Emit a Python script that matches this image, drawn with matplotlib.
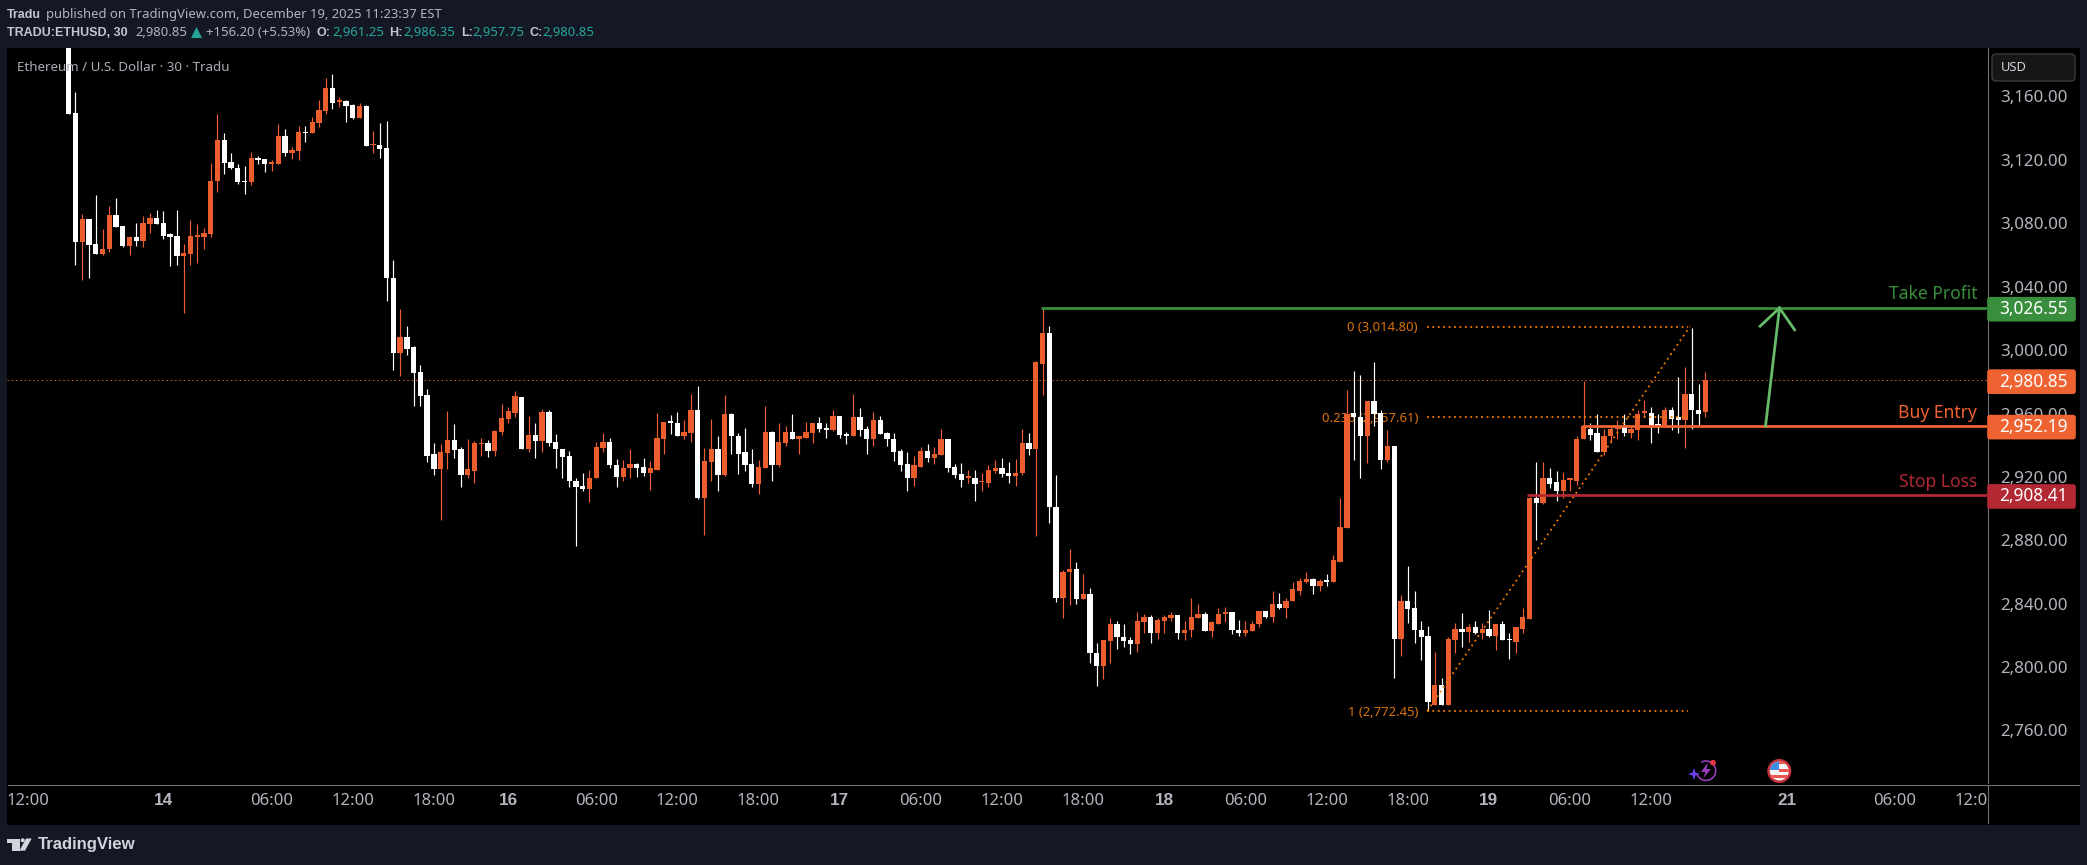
import numpy as np
import matplotlib
matplotlib.use("Agg")
import matplotlib.pyplot as plt
from matplotlib.patches import Rectangle, FancyBboxPatch, Circle, Polygon, Wedge
from matplotlib.transforms import Bbox

# ohlc of each 30 min candle
opens = [3195,3149.3,3067.9,3082.4,3066.7,3060.4,3063.5,3085.0,3078,3065.4,3071.1,3068.6,3079.3,3083.1,3079.9,3073,3071.7,3059.1,3060.4,3071.3,
 3071.1,3073,3106.4,3132.3,3118.4,3115.2,3106.4,3105.8,3120.9,3120.3,3117.3,3117.1,3134.8,3124.1,3125.3,3137.3,3136.7,3143,3150.6,3165.1,
 3156.5,3156.9,3154.4,3146.2,3153.7,3129.1,3129.7,3127.2,3045.8,2998.1,3008,3001.7,2985.9,2971.4,2934.2,2924.7,2934.8,2943,2937.3,2920.9,
 2924,2940.5,2941.7,2936.1,2948.1,2956.3,2960.6,2970.7,2937.9,2946.7,2942.9,2961.2,2942.3,2937.9,2933.5,2917.7,2914.5,2912.6,2919,2938.5,
 2942.3,2927.8,2920.2,2925.3,2928.4,2926.5,2922.7,2924.6,2944.2,2954.9,2954.3,2946.1,2948,2961.9,2907,2929.7,2937.9,2921.5,2960,2946.1,
 2935.4,2928.4,2915.8,2925.9,2948.6,2927.2,2941.7,2948.6,2944.2,2944.8,2948,2953.7,2951.1,2949.9,2958.7,2947.3,2945.5,2958.1,2950.5,2944.2,
 2956.2,2948,2944.2,2936.6,2928.4,2919.6,2926.5,2936.6,2932.2,2934.1,2944.2,2926.5,2922.1,2919.2,2919.6,2916.6,2916.4,2924,2925.3,2922.7,
 2920.8,2922.2,2941.1,2937.9,2991.5,3010.5,2901.3,2843.9,2859.7,2862.2,2842.7,2846.4,2809.2,2800.4,2816.2,2826.9,2819.3,2816.8,2814.3,2828.2,
 2831.3,2821.2,2829.4,2830.7,2832.6,2821.8,2823.1,2830.7,2833.2,2822.5,2827.5,2833.2,2834.5,2823.7,2821.2,2822.5,2826.9,2835.1,2831.9,2840.1,
 2837,2841.4,2848.3,2854,2855.3,2850.9,2854.6,2854,2866.6,2887.5,2960,2958.1,2945.5,2968.2,2960.6,2930.4,2939.2,2818,2841.4,2837,
 2823.7,2819.9,2776.4,2788.4,2776.4,2817.4,2824.3,2822.4,2825,2821.8,2824.3,2819.9,2826.9,2817.4,2816.1,2824.3,2830.6,2906.4,2903.8,2919.6,
 2916.5,2911.4,2918.2,2917.7,2943.6,2950.5,2947.4,2935.4,2945.5,2950.5,2951.2,2948,2949.9,2960.6,2960.6,2953,2951.8,2962.5,2957.5,2955.6,
 2972,2962.5,2961.25]
closes = [3148.9,3067.9,3082.4,3066.0,3060.4,3064.1,3085.0,3077.4,3065.4,3071.1,3068.6,3079.9,3083.1,3079.3,3072.3,3071.1,3059.1,3061,3071.7,3071.7,
 3073.6,3107,3132.3,3117.8,3114.6,3105.8,3105.8,3120.9,3119.7,3117.1,3117.8,3134.8,3124.1,3126,3137.3,3136.7,3143.6,3151.2,3165.1,3156.2,
 3156.9,3153.7,3146.2,3153.7,3128.5,3129.7,3126.6,3045.2,2998.1,3008,3001,2985.3,2970.8,2933.5,2924.7,2935.4,2943,2936.7,2920.9,2924.7,
 2941.1,2941.7,2936.1,2948.7,2956.9,2961.3,2970.8,2937.9,2946.7,2942.9,2961.2,2941.7,2937.3,2932.8,2917.1,2913.9,2912.6,2919.6,2939.1,2942.3,
 2927.2,2920.2,2925.9,2928.4,2925.9,2922.7,2925.3,2944.8,2954.9,2954.3,2946.1,2948.6,2961.9,2907,2930.3,2937.9,2921.5,2960,2945.5,2934.7,
 2927.8,2915.8,2926.5,2948.6,2927.2,2942.3,2948.6,2944.2,2945.5,2948.6,2953.7,2950.5,2949.9,2958.7,2946.7,2945.5,2958.1,2949.9,2944.2,2956.2,
 2947.3,2943.6,2936,2927.8,2919.6,2927.2,2936.6,2932.2,2934.7,2944.2,2925.9,2921.5,2918.3,2919.6,2915.8,2917,2924.6,2925.3,2922.1,2920.8,
 2922.7,2941.1,2937.9,2992.2,3010.5,2900.7,2843.9,2860.3,2862.2,2842.7,2846.4,2808.6,2800.4,2816.8,2826.9,2818.7,2816.2,2814.3,2828.8,2831.3,
 2821.2,2830,2831.3,2832.6,2821.8,2823.7,2831.3,2833.2,2822.5,2828.2,2833.8,2834.5,2823.1,2821.2,2823.1,2827.5,2835.1,2831.9,2840.1,2837,
 2842,2849,2854.6,2855.3,2850.9,2854.6,2853.8,2867.3,2888.1,2960,2957.5,2945.5,2968.2,2960,2930.4,2939.2,2818,2841.4,2836.4,2823.1,
 2819.3,2777.7,2788.4,2776.4,2818,2824.3,2822.4,2825,2821.8,2824.3,2819.9,2826.9,2816.8,2816.8,2825,2831.3,2906.4,2903.8,2919.6,2915.8,
 2911.4,2918.3,2918.6,2944.2,2951.8,2946.7,2935.4,2946.1,2950.5,2951.5,2948,2950.5,2960,2960.9,2952.4,2952.4,2962.5,2956.8,2955.6,2972,
 2961.9,2960,2980.85]
highs = [3200,3162.6,3085.6,3082.4,3097.6,3076.1,3090.6,3095.7,3078.6,3072.3,3080.5,3084.3,3086.2,3088.1,3087.5,3073.6,3088.7,3066.7,3081.8,3079.3,
 3076.8,3117.8,3148.7,3136.7,3124.1,3117.1,3115.9,3124.7,3122.2,3120.3,3119.7,3142.4,3139.2,3127.9,3141.1,3141.7,3146.8,3157.5,3171.4,3174.5,
 3160,3157.5,3155,3156.2,3154.4,3138,3143,3144.3,3056.6,3025.7,3014.9,3002.9,2990.3,2975.2,2941.7,2940.5,2961.3,2953.1,2938.6,2943.6,
 2942.4,2944.3,2943,2949.3,2965.7,2963.8,2974.5,2970.7,2958.7,2953.7,2963.1,2961.9,2947.3,2937.9,2936.6,2919,2922.7,2924.6,2942.3,2948,
 2944.8,2931.6,2930.9,2937.3,2929,2932.2,2930.3,2960.6,2954.9,2959.3,2961.2,2956.2,2972.6,2977.6,2938.5,2956.8,2945.5,2971.9,2960.6,2948,
 2951.1,2937.9,2930.9,2965,2949.2,2954.3,2951.8,2960,2946.1,2954.9,2953.7,2958.1,2954.3,2962.5,2958.7,2948.6,2972.6,2963.7,2952.4,2961.2,
 2958.7,2948.6,2948,2937.3,2936,2933.5,2939.1,2941,2939.1,2950.5,2944.2,2928.4,2929,2924.6,2924.6,2922.7,2927.2,2930.9,2932.2,2929.7,
 2931.6,2950.5,2947.4,2993.4,3026.9,3014.9,2921.5,2861,2874.8,2866.6,2859,2849.6,2814.9,2817.4,2830.7,2828.8,2827.5,2819.3,2834.5,2833.8,
 2832.6,2830.7,2832.6,2834.5,2832.6,2829.4,2843.9,2840.1,2834.5,2828.8,2837,2838.2,2834.5,2830,2829.4,2828.8,2835.1,2835.7,2848.3,2847,
 2843.9,2853.4,2855.9,2860.3,2855.9,2855.3,2859,2871,2906.4,2975.1,2987.1,2984,2968.2,2992.8,2962.5,2949.9,2939.8,2845.8,2863.5,2847.7,
 2828.8,2826.2,2809.8,2793.4,2819.3,2828.1,2834.4,2827.5,2829.4,2828.1,2836.3,2827.5,2829.4,2821.8,2825.6,2837,2907.6,2929.1,2929.1,2925.9,
 2924,2922.8,2919.6,2945.5,2980.2,2953.7,2959.4,2950.5,2951.8,2955.6,2960,2951.8,2961.9,2968.8,2963.8,2960,2964.4,2964.4,2983.3,2989.6,
 3014.2,2978.9,2986.35]
lows = [3148.9,3054.0,3044.0,3045.8,3060.4,3059.7,3062.2,3077.4,3064.8,3059.7,3065.4,3064.8,3073.6,3079.3,3069.8,3052.8,3054.0,3023.3,3054,3054.7,
 3063.5,3071.1,3099.5,3110.8,3114,3105.1,3098.8,3103.9,3117.1,3112.1,3112.7,3117.1,3122.2,3120.3,3119.7,3131,3136.7,3140.5,3148.7,3151.8,
 3153.1,3143.6,3145.5,3146.2,3128.5,3124.1,3120.9,3030.9,2987.2,2983.6,2996.6,2964.5,2964.5,2929.7,2920.9,2892.5,2924.7,2931.7,2913.4,2919,
 2915.9,2932.9,2932.3,2933.5,2946.2,2953.7,2957.5,2937.3,2936,2932.2,2935.4,2939.8,2925.9,2919.6,2913.9,2876.7,2911.4,2904.4,2919,2936,
 2925.9,2913.9,2917.1,2919.6,2920.2,2920.8,2912,2924.6,2934.7,2947.3,2945.5,2944.2,2942.3,2906.3,2883.6,2917.1,2911.4,2920.8,2934.7,2922.1,
 2924,2913.9,2908.9,2925.9,2917.7,2926.5,2939.8,2944.2,2934.7,2944.8,2941.7,2948.6,2944.8,2949.2,2944.8,2941,2945.5,2945.5,2934.7,2939.8,
 2947.3,2939.8,2930.3,2924,2910.8,2914.5,2926.5,2929.7,2928.4,2934.1,2923.4,2919,2913.9,2916.4,2905.1,2910.8,2913.9,2922.7,2920.2,2916.4,
 2914.5,2921.5,2934.1,2883,2971.4,2891.2,2840.8,2830.7,2838.9,2839.5,2842.7,2802.3,2787.8,2792.8,2802.3,2811.7,2812.4,2808,2809.8,2821.2,
 2814.9,2818,2821.2,2828.8,2818,2817.4,2818.7,2830.7,2822.5,2818.7,2827.5,2828.2,2820.6,2819.9,2819.9,2822.5,2825,2830.7,2828.2,2836.4,
 2830.7,2841.4,2845.8,2852.8,2846.4,2847.7,2850.9,2854,2866.6,2887.5,2930.4,2919.6,2928.5,2952.4,2924.7,2929.7,2793.4,2806.7,2828.1,2814.9,
 2804.2,2772,2775.8,2776.4,2776.4,2809.2,2812.4,2816.1,2820.6,2818,2819.3,2810.5,2816.8,2804.8,2808.6,2821.2,2830.6,2880.5,2902.6,2913.3,
 2905.1,2907,2911.4,2915.2,2943.6,2943,2935.4,2934.1,2941.7,2944.2,2946.1,2944.8,2943,2958.1,2941.7,2947.4,2951.8,2949.9,2948,2938.5,
 2950.5,2951.8,2957.75]

# time axis labels sit on candle slots, the trailing ones are future bars
time_slots = [-6,14,30,42,54,65,78,90,102,114,126,138,150,162,174,186,198,210,222,234,254,270,282]
time_labels = ["12:00","14","06:00","12:00","18:00","16","06:00","12:00","18:00","17","06:00","12:00","18:00","18","06:00","12:00","18:00","19","06:00","12:00","21","06:00","12:00"]
day_labels = ["14","16","17","18","19","21"]
price_ticks = [3160,3120,3080,3040,3000,2960,2920,2880,2840,2800,2760]

last_price = 2980.85
take_profit = 3026.55
buy_entry = 2952.19
stop_loss = 2908.41
fib_levels = [3014.80, 2957.61, 2772.45]
fib_names = ["0 (3,014.80)", "0.236 (2,957.61)", "1 (2,772.45)"]

W, H = 2087, 865
NAVY = "#131824"
UP = "#ec5e2e"
DOWN = "#ffffff"
GREEN = "#388e3c"
ORANGE = "#ee6331"
RED = "#b22833"
FIB = "#f57c00"
GREY = "#b2b5be"
FONT = "Noto Sans"
BOLD = "Liberation Sans"  # Noto Sans comes out regular here even when asked for bold
plt.rcParams["font.family"] = [FONT, "DejaVu Sans"]

fig = plt.figure(figsize=(W/100, H/100), dpi=100, facecolor=NAVY)

# black backing for the pane and both scales
bg = fig.add_axes([0, 0, 1, 1], facecolor="none", zorder=0)
bg.set_xlim(0, W)
bg.set_ylim(H, 0)
bg.axis("off")
bg.add_patch(Rectangle((7, 48), 2073, 777, fc="black", ec="none"))

# pixel box of the price pane
L, R, T, B = 7, 1987, 48, 785
ax = fig.add_axes([L/W, 1-B/H, (R-L)/W, (B-T)/H], facecolor="black", zorder=1)
bar_px = 6.763
ax.set_xlim((L-68.7)/bar_px, (R-68.7)/bar_px)
ax.set_ylim(3160-(B-96.5)/1.585, 3160+(96.5-T)/1.585)
for s in ax.spines.values():
    s.set_visible(False)

x = np.arange(len(opens))
o, c, h, l = map(np.array, (opens, closes, highs, lows))
up = c >= o
cols = np.where(up, UP, DOWN)
# minimum height keeps the dojis visible
bot = np.minimum(o, c)
hgt = np.maximum(np.abs(c-o), 1.1)
ax.vlines(x, l, h, colors=cols, linewidth=0.85, zorder=4)
ax.bar(x, hgt, bottom=bot, width=5.3/bar_px, color=cols, linewidth=0, zorder=5)

# fib labels stay under the candles
for lev, name in zip(fib_levels, fib_names):
    ax.text((1418-68.7)/bar_px, lev-0.8, name, color="#d9730d", fontsize=9.4, ha="right", va="center", zorder=3)

ax.axhline(last_price, color=ORANGE, linewidth=0.72, linestyle=(0, (1.3, 3)), zorder=2)
fib_start, fib_end = 200.9, 239.4
for lev in fib_levels:
    ax.plot([fib_start, fib_end], [lev, lev], color=FIB, linewidth=1.3, linestyle=(0, (1, 2)), zorder=6)
ax.plot([fib_start, fib_end+0.3], [fib_levels[2], fib_levels[0]], color=FIB, linewidth=1.3, linestyle=(0, (1, 2.1)), zorder=6)

x_end = ax.get_xlim()[1]
ax.plot([143.8, x_end], [take_profit, take_profit], color=GREEN, linewidth=2.0, zorder=7, solid_capstyle="butt")
ax.plot([223.7, x_end], [buy_entry, buy_entry], color=ORANGE, linewidth=2.0, zorder=7, solid_capstyle="butt")
ax.plot([215.7, x_end], [stop_loss, stop_loss], color=RED, linewidth=2.0, zorder=7, solid_capstyle="butt")

arrow_col = "#66bb6a"
ax.plot([250.9, 252.96], [buy_entry, take_profit], color=arrow_col, linewidth=2.0, zorder=8)
ax.plot([250.1, 252.96, 255.2], [3015.1, take_profit, 3012.8], color=arrow_col, linewidth=2.0, zorder=8, solid_joinstyle="miter")

tx = (1977-68.7)/bar_px
ax.text(tx, take_profit+8.6, "Take Profit", color=GREEN, fontsize=12.6, ha="right", va="center", zorder=8)
ax.text(tx, buy_entry+8.0, "Buy Entry", color=ORANGE, fontsize=12.6, ha="right", va="center", zorder=8)
ax.text(tx, stop_loss+8.4, "Stop Loss", color=RED, fontsize=12.6, ha="right", va="center", zorder=8)

ax.yaxis.tick_right()
ax.set_yticks(price_ticks, [f"{p:,.2f}" for p in price_ticks])
ax.tick_params(axis="y", length=0, pad=9.4, labelsize=12.2, labelcolor=GREY)
ax.set_xticks(time_slots, time_labels)
ax.tick_params(axis="x", length=0, pad=5.5, labelsize=12, labelcolor=GREY)
clip = Bbox([[L, 0], [R, H]])
for t in ax.get_xticklabels():
    t.set_clip_box(clip)
    t.set_clip_on(True)
    if t.get_text() in day_labels:
        t.set_family(BOLD)
        t.set_fontweight("bold")
        t.set_fontsize(12.3)

# overlay in pixel coordinates for the chrome round the chart
ov = fig.add_axes([0, 0, 1, 1], facecolor="none", zorder=2)
ov.set_xlim(0, W)
ov.set_ylim(H, 0)
ov.axis("off")

def to_px(price):
    return ax.transData.transform((0, price))[1]

AXC = "#6f7177"
ov.plot([R+0.5, R+0.5], [T, 783], color=AXC, lw=0.8, zorder=1)
ov.plot([R+0.5, R+0.5], [786, 823], color=AXC, lw=0.8, zorder=1)
ov.plot([L+1, 2079], [B, B], color=AXC, lw=0.8, zorder=1)

for price, col in [(take_profit, GREEN), (last_price, ORANGE), (buy_entry, ORANGE), (stop_loss, RED)]:
    yc = H - to_px(price) + 1.2
    ov.add_patch(FancyBboxPatch((R+1, yc-11.5), 87, 23, boxstyle="round,pad=0,rounding_size=2", fc=col, ec=col, lw=1.2, zorder=3))
    ov.text(2033, yc, f"{price:,.2f}", color="white", fontsize=12.4, ha="center", va="center", zorder=4)

ov.add_patch(FancyBboxPatch((1992, 54), 83, 27, boxstyle="round,pad=0,rounding_size=4", fc="#161616", ec="#3c3c3c", lw=1, zorder=3))
ov.text(2001, 67.5, "USD", color="#d1d4dc", fontsize=9.3, ha="left", va="center", zorder=4)

ov.text(17, 67.5, "Ethereum / U.S. Dollar · 30 · Tradu", color="#a9acb4", fontsize=9.6, ha="left", va="center", zorder=6)

# header lines
HFS = 9.4
BFS = 9.0
ov.text(7, 14.5, "Tradu", color="#c4c7cf", family=BOLD, fontsize=BFS, fontweight="bold", ha="left", va="center")
ov.text(46, 14.5, "published on TradingView.com, December 19, 2025 11:23:37 EST", color=GREY, fontsize=HFS, ha="left", va="center")
yh = 33
TEAL = "#26a69a"
ov.text(7, yh, "TRADU:ETHUSD, 30", color="#c4c7cf", family=BOLD, fontsize=BFS, fontweight="bold", ha="left", va="center")
ov.text(135, yh, "2,980.85", color=GREY, fontsize=HFS, ha="left", va="center")
ov.add_patch(Polygon([[191, 38], [202, 38], [196.5, 27]], fc=TEAL, ec="none"))
ov.text(206, yh, "+156.20 (+5.53%)", color=GREY, fontsize=HFS, ha="left", va="center")
for xl, lab, xv, val in [(316.7, "O:", 332, "2,961.25"), (389, "H:", 403, "2,986.35"), (460.7, "L:", 472, "2,957.75"), (530, "C:", 542.7, "2,980.85")]:
    ov.text(xl, yh, lab, color="#c4c7cf", family=BOLD, fontsize=BFS, fontweight="bold", ha="left", va="center")
    ov.text(xv, yh, val, color=TEAL, fontsize=HFS, ha="left", va="center")

# logo and name in the footer
LOGO = "#d1d4dc"
ov.add_patch(Polygon([[7.3, 838.5], [20, 838.5], [20, 850.7], [12.3, 850.7], [12.3, 842.5], [7.3, 842.5]], fc=LOGO, ec="none"))
ov.add_patch(Circle((22.7, 840.3), 2, fc=LOGO, ec="none"))
ov.add_patch(Polygon([[26, 838.5], [31.7, 838.5], [25, 850.7], [19.5, 850.7]], fc=LOGO, ec="none"))
ov.text(37.5, 844, "TradingView", color=LOGO, family=BOLD, fontsize=12.1, fontweight="bold", ha="left", va="center")

# event markers on the time scale
ov.add_patch(Wedge((1706, 770.7), 10.5, -120, 160, width=1.6, fc="#9c3fc0", ec="none", zorder=5))
ov.add_patch(Polygon([[1708, 762.5], [1701, 772], [1705.5, 772], [1703.5, 778], [1711, 769], [1706.5, 769]], fc="#9c3fc0", ec="none", zorder=5))
ov.add_patch(Polygon([[1694, 768], [1695.5, 772.5], [1700, 774], [1695.5, 775.5], [1694, 780], [1692.5, 775.5], [1688, 774], [1692.5, 772.5]], fc="#6a3ff0", ec="none", zorder=5))
ov.add_patch(Circle((1713, 762.7), 2.8, fc="#f23645", ec="none", zorder=6))

ov.add_patch(Circle((1779.3, 771), 12, fc="#c8323c", ec="none", zorder=5))
ov.add_patch(Circle((1779.3, 771), 9.5, fc="#f5f5f5", ec="none", zorder=6))
disc = Circle((1779.3, 771), 9.5, transform=ov.transData)
for ys, col in [(761, "#ef5350"), (768.5, "#ef5350"), (775, "#ef5350")]:
    ov.add_patch(Rectangle((1779.3, ys) if ys < 770 else (1769, ys), 11 if ys < 770 else 21, 3, fc=col, ec="none", zorder=7, clip_path=disc))
ov.add_patch(Rectangle((1769, 761), 10.3, 9, fc="#3f8ce0", ec="none", zorder=8, clip_path=disc))

fig.savefig("out.png", dpi=100, facecolor=NAVY)
